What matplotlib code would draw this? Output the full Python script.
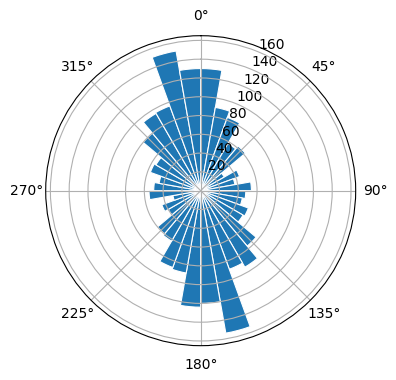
import numpy as np
import matplotlib
matplotlib.use('Agg')
import matplotlib.pyplot as plt

# 10-degree direction bins (bin centres, degrees clockwise from north)
bin_centers_deg = [5, 15, 25, 35, 45, 55, 65, 75, 85,
                   95, 105, 115, 125, 135, 145, 155, 165, 175,
                   185, 195, 205, 215, 225, 235, 245, 255, 265,
                   275, 285, 295, 305, 315, 325, 335, 345, 355]
counts = [130, 90, 83, 58, 62, 29, 44, 37, 54,
          48, 45, 54, 52, 77, 94, 89, 154, 120,
          124, 89, 87, 62, 60, 40, 44, 30, 55,
          50, 45, 57, 55, 80, 95, 96, 151, 130]
bin_width_deg = 10
r_max = 165

fig = plt.figure(figsize=(3.96, 3.8), dpi=100)
ax = fig.add_axes([0.1154, 0.0903, 0.7828, 0.8158], projection='polar')
ax.set_theta_zero_location('N')
ax.set_theta_direction(-1)

theta = np.deg2rad(bin_centers_deg)
ax.bar(theta, counts, width=np.deg2rad(bin_width_deg), color='C0',
       edgecolor='white', linewidth=0.8)
ax.set_ylim(0, r_max)
ax.set_yticks(np.arange(20, 161, 20))

fig.savefig('out.png', dpi=100)
